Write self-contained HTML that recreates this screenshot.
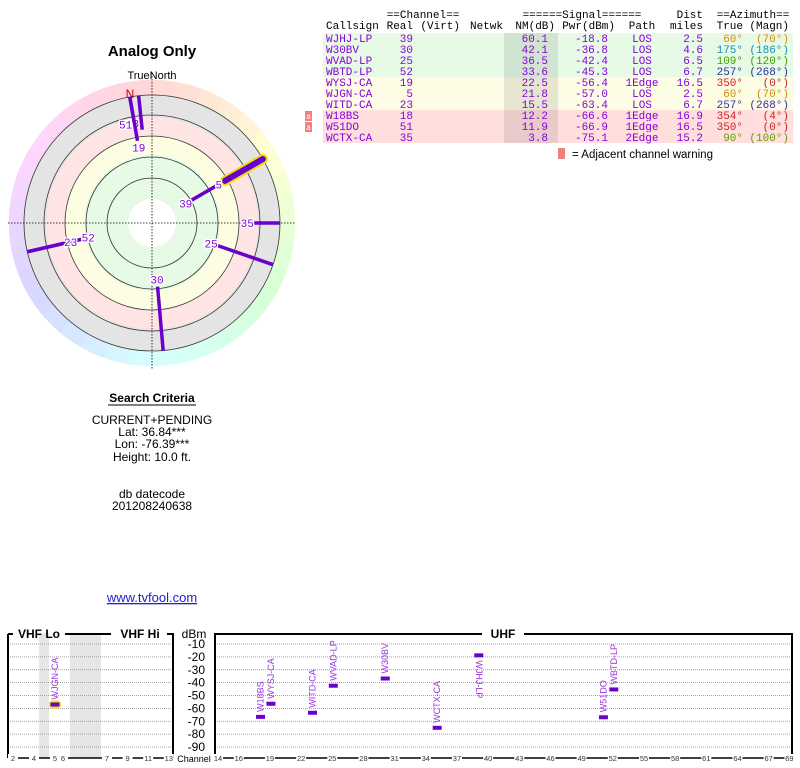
<!DOCTYPE html>
<html><head><meta charset="utf-8">
<style>
body{margin:0;background:#fff;width:800px;height:768px;overflow:hidden}
svg{position:absolute;left:0;top:0}
.mono{font-family:"Liberation Mono","DejaVu Sans Mono",monospace}
.sans{font-family:"Liberation Sans","DejaVu Sans",sans-serif}
</style></head>
<body>
<svg id="page" width="800" height="768" xmlns="http://www.w3.org/2000/svg">
  <text x="152" y="56" text-anchor="middle" class="sans" font-size="15" font-weight="bold">Analog Only</text>
  <text x="152" y="79" text-anchor="middle" class="sans" font-size="11">TrueNorth</text>
  <g id="polar"></g>
  <g class="sans" font-size="12" text-anchor="middle">
    <text x="152" y="402" font-weight="bold">Search Criteria</text>
    <line x1="108" y1="405" x2="196" y2="405" stroke="#000" stroke-width="1"/>
    <text x="152" y="424">CURRENT+PENDING</text>
    <text x="152" y="436">Lat: 36.84***</text>
    <text x="152" y="448">Lon: -76.39***</text>
    <text x="152" y="461">Height: 10.0 ft.</text>
    <text x="152" y="498">db datecode</text>
    <text x="152" y="510">201208240638</text>
    <text x="152" y="602" fill="#2020d0" font-size="13" text-decoration="underline">www.tvfool.com</text>
  </g>
  <g id="table" class="mono" font-size="11"></g>
  <g id="spectrum"></g>
</svg>
<script>
const callsigns=["WJHJ-LP","W30BV","WVAD-LP","WBTD-LP","WYSJ-CA","WJGN-CA","WITD-CA","W18BS","W51DO","WCTX-CA"];
const channels=[39,30,25,52,19,5,23,18,51,35];
const nmDb=[60.1,42.1,36.5,33.6,22.5,21.8,15.5,12.2,11.9,3.8];
const pwrDbm=[-18.8,-36.8,-42.4,-45.3,-56.4,-57.0,-63.4,-66.6,-66.9,-75.1];
const paths=["LOS","LOS","LOS","LOS","1Edge","LOS","LOS","1Edge","1Edge","2Edge"];
const distMiles=[2.5,4.6,6.5,6.7,16.5,2.5,6.7,16.9,16.5,15.2];
const azTrue=[60,175,109,257,350,60,257,354,350,90];
const azMagn=[70,186,120,268,0,70,268,4,0,100];
const adjWarn=[false,false,false,false,false,false,false,true,true,false];
const highlighted=[false,false,false,false,false,true,false,false,false,false];
const dbmTicks=[-10,-20,-30,-40,-50,-60,-70,-80,-90];
const vhfTicks=[2,4,5,6,7,9,11,13];
const uhfTicks=[14,16,19,22,25,28,31,34,37,40,43,46,49,52,55,58,61,64,67,69];

const NS="http://www.w3.org/2000/svg";
function mk(parent,tag,attrs,text){const e=document.createElementNS(NS,tag);for(const k in attrs)e.setAttribute(k,attrs[k]);if(text!==undefined)e.textContent=text;parent.appendChild(e);return e;}
const PURPLE="#6a00cc", TXT="#8800dd";
function rowBg(i){return nmDb[i]>=30?"#e6fae6":(nmDb[i]>=15?"#fdfce4":(i>=7?"#ffdede":"#ffe8e8"));}
function azColor(a){const m={60:"#d09000",70:"#d09000",175:"#1090b0",109:"#40a000",257:"#3030a0",350:"#d02020",354:"#d02020",90:"#60a000"};return m[a]||"#333";}

// ---------- polar ----------
const P=document.getElementById('polar');
const cx=152,cy=223;
function rOf(nm){return 106-nm;}
for(let a=0;a<360;a+=10){
  const a1=(a-90)*Math.PI/180,a2=(a+10-90)*Math.PI/180,R1=128,R2=143;
  const d=`M${cx+R1*Math.cos(a1)},${cy+R1*Math.sin(a1)} L${cx+R2*Math.cos(a1)},${cy+R2*Math.sin(a1)} A${R2},${R2} 0 0 1 ${cx+R2*Math.cos(a2)},${cy+R2*Math.sin(a2)} L${cx+R1*Math.cos(a2)},${cy+R1*Math.sin(a2)} A${R1},${R1} 0 0 0 ${cx+R1*Math.cos(a1)},${cy+R1*Math.sin(a1)}Z`;
  const w=mk(P,'path',{d:d,fill:`hsl(${(a+5)%360},100%,92%)`,stroke:`hsl(${(a+5)%360},100%,92%)`,'stroke-width':0.5});
  
  
}
[[128,"#e4e4e4"],[106,"#ffe4e4"],[87,"#fdfde2"],[68,"#e6fae6"],[24,"#ffffff"]].forEach(([r,f])=>{
  const c=mk(P,'circle',{cx:cx,cy:cy,r:r,fill:f});
  
  
});
[45,66,87,108,128].forEach(r=>{
  const c=mk(P,'circle',{cx:cx,cy:cy,r:r,fill:'none',stroke:'#333','stroke-width':0.8});
  
  
});
const hx=mk(P,'line',{x1:8,y1:cy,x2:296,y2:cy,stroke:'#000','stroke-width':0.8,'stroke-dasharray':'1.5,1.5'});


const vx=mk(P,'line',{x1:cx,y1:73,x2:cx,y2:370,stroke:'#000','stroke-width':0.8,'stroke-dasharray':'1.5,1.5'});


const nl=mk(P,'text',{x:130,y:98,'text-anchor':'middle',fill:'#cc0000','font-size':12,class:'sans'},'N');


const order=[...callsigns.keys()].sort((a,b)=>nmDb[b]-nmDb[a]);
const placed=[];
order.forEach(i=>{
  const t=azTrue[i]*Math.PI/180, r0=rOf(nmDb[i]), r1=128;
  const x0=cx+r0*Math.sin(t),y0=cy-r0*Math.cos(t),x1=cx+r1*Math.sin(t),y1=cy-r1*Math.cos(t);
  if(highlighted[i]){
    const h=mk(P,'line',{x1:x0,y1:y0,x2:x1,y2:y1,stroke:'#f0e000','stroke-width':10,'stroke-linecap':'round'});
    
    
  }
  const l=mk(P,'line',{x1:x0,y1:y0,x2:x1,y2:y1,stroke:PURPLE,'stroke-width':highlighted[i]?6:3.5,'stroke-linecap':highlighted[i]?'round':'butt'});
  
  
  let rl=r0-7;
  let lx=cx+rl*Math.sin(t),ly=cy-rl*Math.cos(t);
  if(placed.some(p=>Math.hypot(p[0]-lx,p[1]-ly)<12)){rl=r0+6;lx=cx+rl*Math.sin(t)-9;ly=cy-rl*Math.cos(t);}
  placed.push([lx,ly]);
  const lb=mk(P,'text',{x:lx,y:ly+4,'text-anchor':'middle',fill:TXT,'font-size':11,class:'mono',stroke:'#fff','stroke-width':2.5,'paint-order':'stroke'},String(channels[i]));
  
  
});

// ---------- table ----------
const T=document.getElementById('table');
function tx(x,y,s,anchor,fill){return mk(T,'text',{x:x,y:y,'text-anchor':anchor||'start',fill:fill||'#000'},s);}
let h;
h=tx(423,18,"==Channel==","middle","#000");
h=tx(582,18,"======Signal======","middle","#000");
h=tx(703,18,"Dist","end");
h=tx(753,18,"==Azimuth==","middle");
const hdr=[[326,"Callsign","start"],[413,"Real","end"],[460,"(Virt)","end"],[503,"Netwk","end"],[555,"NM(dB)","end"],[615,"Pwr(dBm)","end"],[642,"Path","middle"],[703,"miles","end"],[743,"True","end"],[789,"(Magn)","end"]];
hdr.forEach(([x,s,a])=>{const e=tx(x,29,s,a);});
callsigns.forEach((c,i)=>{
  const top=33+i*11, by=top+9;
  const bg=mk(T,'rect',{x:323,y:top,width:470,height:11,fill:rowBg(i)});
  
  
  const sh=mk(T,'rect',{x:504,y:top,width:54,height:11,fill:'rgba(0,0,0,0.09)'});
  
  
  if(adjWarn[i]){
    const b=mk(T,'rect',{x:305,y:top+1,width:7,height:10,fill:'#f08080'});
    
    
    const bt=mk(T,'text',{x:308.5,y:top+9,'text-anchor':'middle',fill:'#fff','font-size':8},'a');
    
    
  }
  const cells=[[326,c,'start',TXT],[413,String(channels[i]),'end',TXT],[548,nmDb[i].toFixed(1),'end',TXT],[608,pwrDbm[i].toFixed(1),'end',TXT],[642,paths[i],'middle',TXT],[703,distMiles[i].toFixed(1),'end',TXT],[743,azTrue[i]+'°','end',azColor(azTrue[i])],[789,'('+azMagn[i]+'°)','end',azColor(azTrue[i])]];
  const names=['callsign','channel','nm','power','path','distance','azimuth-true','azimuth-magn'];
  cells.forEach(([x,s,a,f],k)=>{const e=tx(x,by,s,a,f);});
});
const lgB=mk(T,'rect',{x:558,y:148,width:7,height:11,fill:'#f08080'});


const lgT=mk(T,'text',{x:572,y:158,class:'sans','font-size':11.5},'= Adjacent channel warning');



// ---------- spectrum ----------
const S=document.getElementById('spectrum');
const yTop=644, yPer=1.2875, axisY=758;
function yOf(d){return yTop+(-10-d)*yPer;}
function xU(ch){return 218+(ch-14)*10.39;}
function xV(ch){return ch<=4?13+(ch-2)*10.5:(ch===5?55:(ch===6?63:107+(ch-7)*10.3));}
[[39,10],[70,31]].forEach(([x,w])=>{const r=mk(S,'rect',{x:x,y:633,width:w,height:125,fill:'#e6e6e6'});});
dbmTicks.forEach(d=>{
  const y=yOf(d);
  [[8,172],[215,791]].forEach(([a,b])=>{const g=mk(S,'line',{x1:a,y1:y,x2:b,y2:y,stroke:'#888','stroke-width':0.8,'stroke-dasharray':'1,1'});});
  const t=mk(S,'text',{x:205,y:y+4,'text-anchor':'end',class:'sans','font-size':12},String(d));
  
  
});
const fr=[
 "M8,634 L13,634 M65,634 L111,634 M167,634 L173,634 L173,758",
 "M8,634 L8,758",
 "M215,758 L215,634 L482,634 M524,634 L792,634 L792,758"];
fr.forEach(d=>{const p=mk(S,'path',{d:d,stroke:'#000','stroke-width':2,fill:'none'});});
[[39,"VHF Lo"],[140,"VHF Hi"],[503,"UHF"]].forEach(([x,s])=>{const t=mk(S,'text',{x:x,y:638,'text-anchor':'middle',class:'sans','font-size':12,'font-weight':'bold'},s);});
const dbmT=mk(S,'text',{x:194,y:638,'text-anchor':'middle',class:'sans','font-size':12},'dBm');


const ax1=mk(S,'line',{x1:8,y1:axisY,x2:173,y2:axisY,stroke:'#000','stroke-width':1.5});

const ax2=mk(S,'line',{x1:215,y1:axisY,x2:792,y2:axisY,stroke:'#000','stroke-width':1.5});

function tick(x,s){
  const bg=mk(S,'rect',{x:x-5,y:axisY-4,width:10,height:8,fill:'#fff'});
  
  const t=mk(S,'text',{x:x,y:axisY+3,'text-anchor':'middle',class:'sans','font-size':7.5,fill:'#333'},s);
  
}
vhfTicks.forEach(c=>tick(xV(c),String(c)));
uhfTicks.forEach(c=>tick(xU(c),String(c)));
const chT=mk(S,'text',{x:194,y:axisY+4,'text-anchor':'middle',class:'sans','font-size':9},'Channel');

callsigns.forEach((c,i)=>{
  const ch=channels[i], x=ch<14?xV(ch):xU(ch)+1, y=yOf(pwrDbm[i]);
  if(highlighted[i]){const hl=mk(S,'rect',{x:x-6,y:y-4,width:12,height:8,rx:4,fill:'#f0e000'});}
  const b=mk(S,'rect',{x:x-4.5,y:y-2,width:9,height:4,fill:PURPLE});
  
  
  const len=c.length*5;
  let t;
  if(y-5-len<641){
    t=mk(S,'text',{x:x-3,y:y+5,transform:`rotate(90 ${x-3} ${y+5})`,class:'sans','font-size':9,fill:'#9a30e0'},c);
  } else {
    t=mk(S,'text',{x:x+3,y:y-5,transform:`rotate(-90 ${x+3} ${y-5})`,class:'sans','font-size':9,fill:'#9a30e0'},c);
  }
  
  
});
</script>
</body></html>
